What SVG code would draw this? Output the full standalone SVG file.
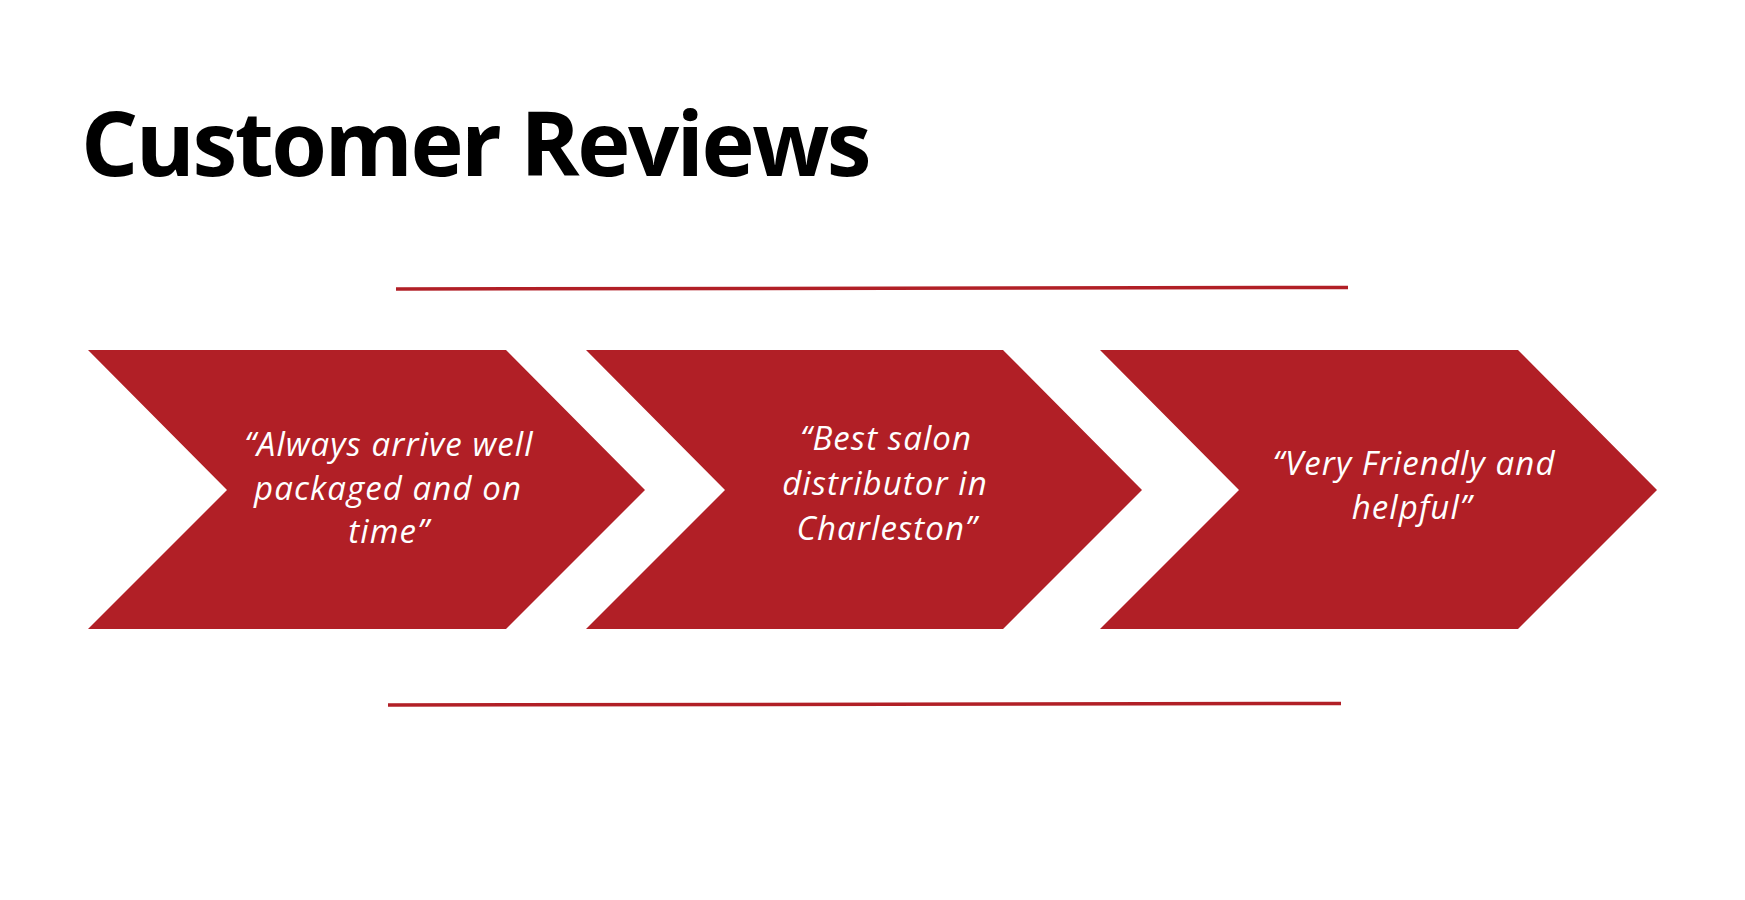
<svg xmlns="http://www.w3.org/2000/svg" width="1745" height="900" viewBox="0 0 1745 900">
  <style>
    .title { font-family: "Open Sans", "Liberation Sans", sans-serif; font-weight: 700; font-size: 90px; letter-spacing: -2.5px; fill: #000; }
    .chev { fill: #B11F26; }
    .quote { font-family: "Open Sans", "Liberation Sans", sans-serif; font-style: italic; font-weight: 400; font-size: 33px; letter-spacing: 1.1px; fill: #fff; text-anchor: middle; }
    .rule { stroke: #B11F26; stroke-width: 3.5; fill: none; }
  </style>
  <rect width="1745" height="900" fill="#fff"/>

  <text id="title" class="title" x="81" y="176">Customer Reviews</text>

  <g id="rules">
    <line class="rule" x1="396" y1="289" x2="1348" y2="287.5"/>
    <line class="rule" x1="388" y1="705" x2="1341" y2="703.5"/>
  </g>

  <g id="review-1">
    <polygon class="chev" points="88,350 506,350 645,490 506,629 88,629 227,490"/>
    <text class="quote" x="389" y="456">“Always arrive well</text>
    <text class="quote" x="388" y="500">packaged and on</text>
    <text class="quote" x="389" y="543">time”</text>
  </g>

  <g id="review-2">
    <polygon class="chev" points="586,350 1003,350 1142,490 1003,629 586,629 725,490"/>
    <text class="quote" x="886" y="450">“Best salon</text>
    <text class="quote" x="885" y="495">distributor in</text>
    <text class="quote" x="887" y="540">Charleston”</text>
  </g>

  <g id="review-3">
    <polygon class="chev" points="1100,350 1518,350 1657,490 1518,629 1100,629 1239,490"/>
    <text class="quote" x="1414" y="475">“Very Friendly and</text>
    <text class="quote" x="1412" y="519">helpful”</text>
  </g>
</svg>
